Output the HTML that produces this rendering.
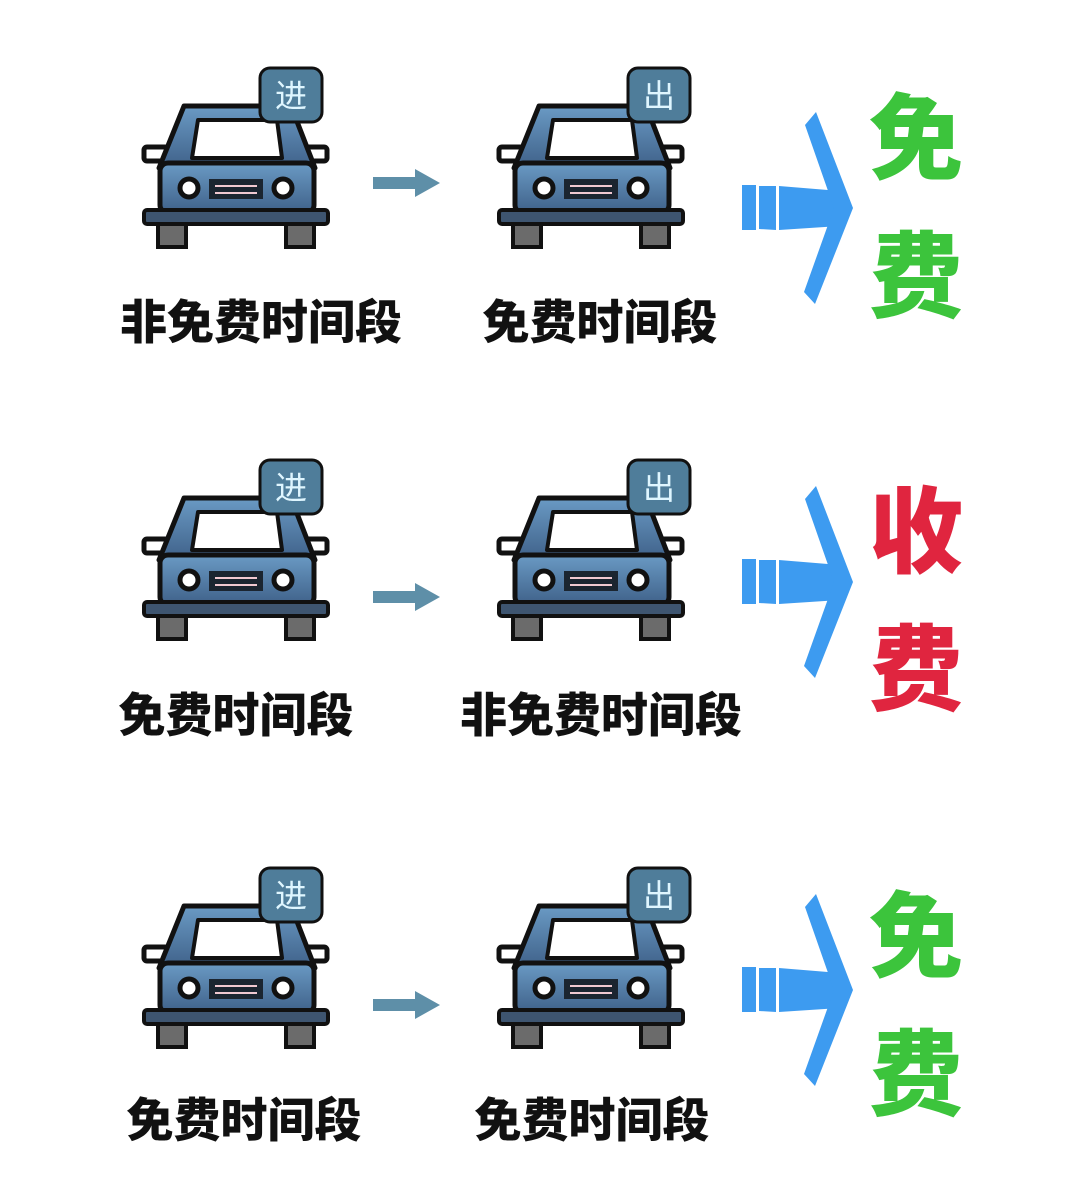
<!DOCTYPE html>
<html><head><meta charset="utf-8"><style>
html,body{margin:0;padding:0;background:#fff;}
svg{display:block}
.lbl{font-family:"Liberation Sans","Noto Sans CJK SC",sans-serif;font-weight:900;font-size:47px;fill:#111}
.big{font-family:"Liberation Sans","Noto Sans CJK SC",sans-serif;font-weight:900;font-size:94px}
.sg{font-family:"Liberation Sans","Noto Sans CJK SC",sans-serif;font-size:32px;fill:#dff6ff}
</style></head><body>
<svg width="1080" height="1204" viewBox="0 0 1080 1204" xmlns="http://www.w3.org/2000/svg">
<defs>
<linearGradient id="bg" x1="0" y1="0" x2="0" y2="1"><stop offset="0" stop-color="#6a9ac4"/><stop offset="1" stop-color="#3f6189"/></linearGradient>
<g id="car">
<rect x="1" y="79" width="24" height="14" rx="3" fill="#fff" stroke="#111" stroke-width="5"/>
<rect x="160" y="79" width="24" height="14" rx="3" fill="#fff" stroke="#111" stroke-width="5"/>
<path d="M41 38 L148 38 L172 100 L16 100 Z" fill="url(#bg)" stroke="#111" stroke-width="5" stroke-linejoin="round"/>
<path d="M55 52 L134 52 L139 90 L49 90 Z" fill="#fff" stroke="#111" stroke-width="4" stroke-linejoin="round"/>
<rect x="17" y="95" width="154" height="50" rx="8" fill="url(#bg)" stroke="#111" stroke-width="5"/>
<circle cx="46" cy="120" r="9" fill="#fff" stroke="#111" stroke-width="5"/>
<circle cx="140" cy="120" r="9" fill="#fff" stroke="#111" stroke-width="5"/>
<rect x="66" y="111" width="54" height="20" fill="#1b2530"/>
<line x1="72" y1="118" x2="114" y2="118" stroke="#f0c8d0" stroke-width="2"/>
<line x1="72" y1="125" x2="114" y2="125" stroke="#f0c8d0" stroke-width="2"/>
<rect x="15" y="155" width="28" height="24" fill="#6b6b6b" stroke="#111" stroke-width="4"/>
<rect x="143" y="155" width="28" height="24" fill="#6b6b6b" stroke="#111" stroke-width="4"/>
<rect x="1" y="142" width="184" height="14" rx="3" fill="#3e5570" stroke="#111" stroke-width="4"/>
</g>
<g id="sm"><path d="M0 -6 L42 -6 L42 -14 L67 0 L42 14 L42 6 L0 6 Z" fill="#5e8fa8"/></g>
<g id="bigarr" fill="#3d9bf0">
<path d="M742 -23 L756 -23 L756 22 L742 22 Z"/>
<path d="M759 -22 L776 -22 L776 22 L759 21 Z"/>
<path d="M779 -22 L840 -17 L840 18 L779 22 Z"/>
<path d="M805 -83 L816 -96 L853 0 L815 96 L804 84 L834 0 Z"/>
</g>
</defs>
<!-- row 1 -->
<use href="#car" x="143" y="68"/>
<rect x="260" y="68" width="62" height="54" rx="10" fill="#4f7d9a" stroke="#111" stroke-width="3"/><text x="291" y="107" text-anchor="middle" class="sg">进</text>
<use href="#car" x="498" y="68"/>
<rect x="628" y="68" width="62" height="54" rx="10" fill="#4f7d9a" stroke="#111" stroke-width="3"/><text x="659" y="107" text-anchor="middle" class="sg">出</text>
<use href="#sm" x="373" y="183"/>
<use href="#bigarr" x="0" y="208"/>
<text x="916" y="172" text-anchor="middle" class="big" fill="#3cc43c">免</text>
<text x="916" y="310" text-anchor="middle" class="big" fill="#3cc43c">费</text>
<text x="261" y="339" text-anchor="middle" class="lbl">非免费时间段</text>
<text x="600" y="339" text-anchor="middle" class="lbl">免费时间段</text>
<!-- row 2 -->
<use href="#car" x="143" y="460"/>
<rect x="260" y="460" width="62" height="54" rx="10" fill="#4f7d9a" stroke="#111" stroke-width="3"/><text x="291" y="499" text-anchor="middle" class="sg">进</text>
<use href="#car" x="498" y="460"/>
<rect x="628" y="460" width="62" height="54" rx="10" fill="#4f7d9a" stroke="#111" stroke-width="3"/><text x="659" y="499" text-anchor="middle" class="sg">出</text>
<use href="#sm" x="373" y="597"/>
<use href="#bigarr" x="0" y="582"/>
<text x="916" y="565" text-anchor="middle" class="big" fill="#e0253f">收</text>
<text x="916" y="703" text-anchor="middle" class="big" fill="#e0253f">费</text>
<text x="236" y="732" text-anchor="middle" class="lbl">免费时间段</text>
<text x="601" y="732" text-anchor="middle" class="lbl">非免费时间段</text>
<!-- row 3 -->
<use href="#car" x="143" y="868"/>
<rect x="260" y="868" width="62" height="54" rx="10" fill="#4f7d9a" stroke="#111" stroke-width="3"/><text x="291" y="907" text-anchor="middle" class="sg">进</text>
<use href="#car" x="498" y="868"/>
<rect x="628" y="868" width="62" height="54" rx="10" fill="#4f7d9a" stroke="#111" stroke-width="3"/><text x="659" y="907" text-anchor="middle" class="sg">出</text>
<use href="#sm" x="373" y="1005"/>
<use href="#bigarr" x="0" y="990"/>
<text x="916" y="970" text-anchor="middle" class="big" fill="#3cc43c">免</text>
<text x="916" y="1108" text-anchor="middle" class="big" fill="#3cc43c">费</text>
<text x="244" y="1137" text-anchor="middle" class="lbl">免费时间段</text>
<text x="592" y="1137" text-anchor="middle" class="lbl">免费时间段</text>
</svg>
</body></html>
